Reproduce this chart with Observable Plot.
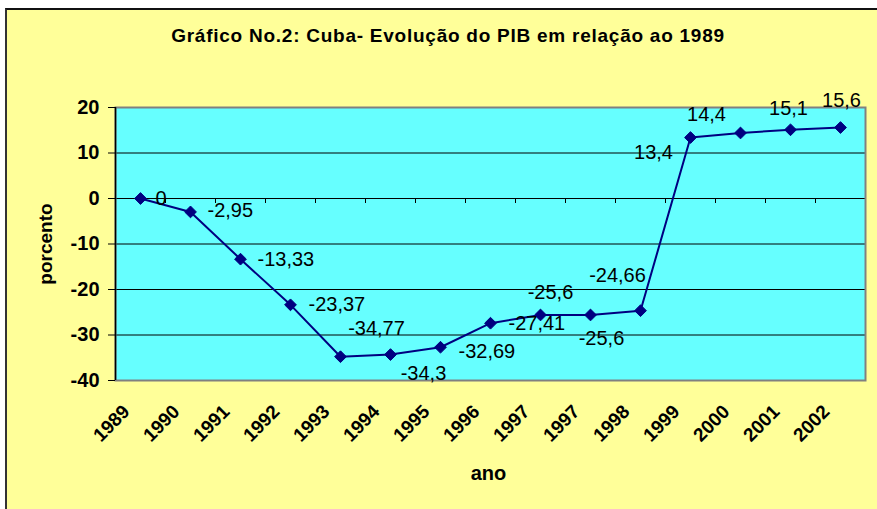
<!DOCTYPE html>
<html><head><meta charset="utf-8">
<script src="https://cdn.jsdelivr.net/npm/d3@7"></script>
<script src="https://cdn.jsdelivr.net/npm/@observablehq/plot@0.6"></script>
<style>
body{margin:0;background:#fff;}
#wrap{position:relative;width:877px;height:509px;overflow:hidden;background:#fff;font-family:"Liberation Sans",Arial,sans-serif;}
#panel{position:absolute;left:5px;top:8px;width:900px;height:520px;background:#FFFF99;border-left:2px solid #333;border-top:2px solid #111;}
#title{position:absolute;left:0;width:896px;top:25px;text-align:center;font-weight:bold;font-size:19px;letter-spacing:0.75px;color:#000;white-space:nowrap;}
#chart{position:absolute;left:0;top:60px;}
</style></head>
<body><div id="wrap"><div id="panel"></div><div id="title"></div><div id="chart"></div></div>
<script>
// ---- data ----
const titleText = "Gráfico No.2: Cuba- Evolução do PIB em relação ao 1989";
const yAxisLabel = "porcento";
const xAxisLabel = "ano";
const years = ["1989","1990","1991","1992","1993","1994","1995","1996","1997","1997","1998","1999","2000","2001","2002"];
const values = [0, -2.95, -13.33, -23.37, -34.77, -34.3, -32.69, -27.41, -25.6, -25.6, -24.66, 13.4, 14.4, 15.1, 15.6];
const valueLabels = ["0","-2,95","-13,33","-23,37","-34,77","-34,3","-32,69","-27,41","-25,6","-25,6","-24,66","13,4","14,4","15,1","15,6"];
const yTicks = [-40, -30, -20, -10, 0, 10, 20];

// ---- layout (label placement relative to each point, px) ----
const labelPlacement = [
  ["start", 15, 0], ["start", 17, -1], ["start", 17, 0], ["start", 18, 0],
  ["middle", 36, -28], ["middle", 33, 19], ["start", 18, 4], ["start", 18, 0],
  ["middle", 10, -22], ["middle", 11, 24], ["middle", -23, -35], ["middle", -37, 15],
  ["middle", -34, -18], ["middle", -2, -21], ["middle", 1, -27]
];

document.getElementById("title").textContent = titleText;

const idx = years.map((_, i) => i);
const bounds = d3.range(-0.5, years.length, 1);
const gridLines = yTicks.filter(v => v > -40 && v < 20);
const navy = "#000080";
const font = "Liberation Sans, Arial, sans-serif";

const labelMarks = idx.map(i => Plot.text([i], {
  x: d => d, y: d => values[d], text: d => valueLabels[d],
  textAnchor: labelPlacement[i][0], dx: labelPlacement[i][1], dy: labelPlacement[i][2],
  fontSize: 20, fill: "#000"
}));

const chart = Plot.plot({
  width: 877, height: 449,
  marginLeft: 115, marginRight: 12, marginTop: 47, marginBottom: 129,
  style: {background: "transparent", fontFamily: font, color: "#000", overflow: "visible"},
  x: {type: "linear", domain: [-0.5, years.length - 0.5], axis: null},
  y: {domain: [-40, 20], axis: null},
  marks: [
    Plot.frame({fill: "#66FFFF"}),
    Plot.ruleY(gridLines, {stroke: "#000", strokeWidth: 1}),
    Plot.ruleX(bounds, {x: d => d, y1: 0, y2: 0, insetBottom: -5, stroke: "#000", strokeWidth: 1}),
    Plot.frame({stroke: "#808080", strokeWidth: 2}),
    Plot.ruleX([-0.5], {stroke: "#000", strokeWidth: 1.5}),
    Plot.axisY({ticks: yTicks, tickSize: 7, tickPadding: 9, fontSize: 20, fontWeight: "bold", label: null, tickFormat: d => String(d)}),
    Plot.text(idx, {x: d => d, text: d => years[d], frameAnchor: "bottom", rotate: -45,
      textAnchor: "end", lineAnchor: "middle", dx: -14, dy: 28, fontSize: 19, fontWeight: "bold", letterSpacing: 0.4}),
    Plot.line(idx, {x: d => d, y: d => values[d], stroke: navy, strokeWidth: 2}),
    Plot.dot(idx, {x: d => d, y: d => values[d], symbol: "diamond2", r: 5.3, fill: navy, stroke: navy, strokeWidth: 1}),
    ...labelMarks,
    Plot.text([yAxisLabel], {text: d => d, frameAnchor: "left", textAnchor: "middle", lineAnchor: "middle", dx: -70, rotate: -90, fontSize: 19, fontWeight: "bold", letterSpacing: 0.6}),
    Plot.text([xAxisLabel], {text: d => d, frameAnchor: "bottom", textAnchor: "middle", lineAnchor: "middle", dx: -2, dy: 93, fontSize: 20, fontWeight: "bold"})
  ]
});
document.getElementById("chart").appendChild(chart);
</script>
</body></html>
